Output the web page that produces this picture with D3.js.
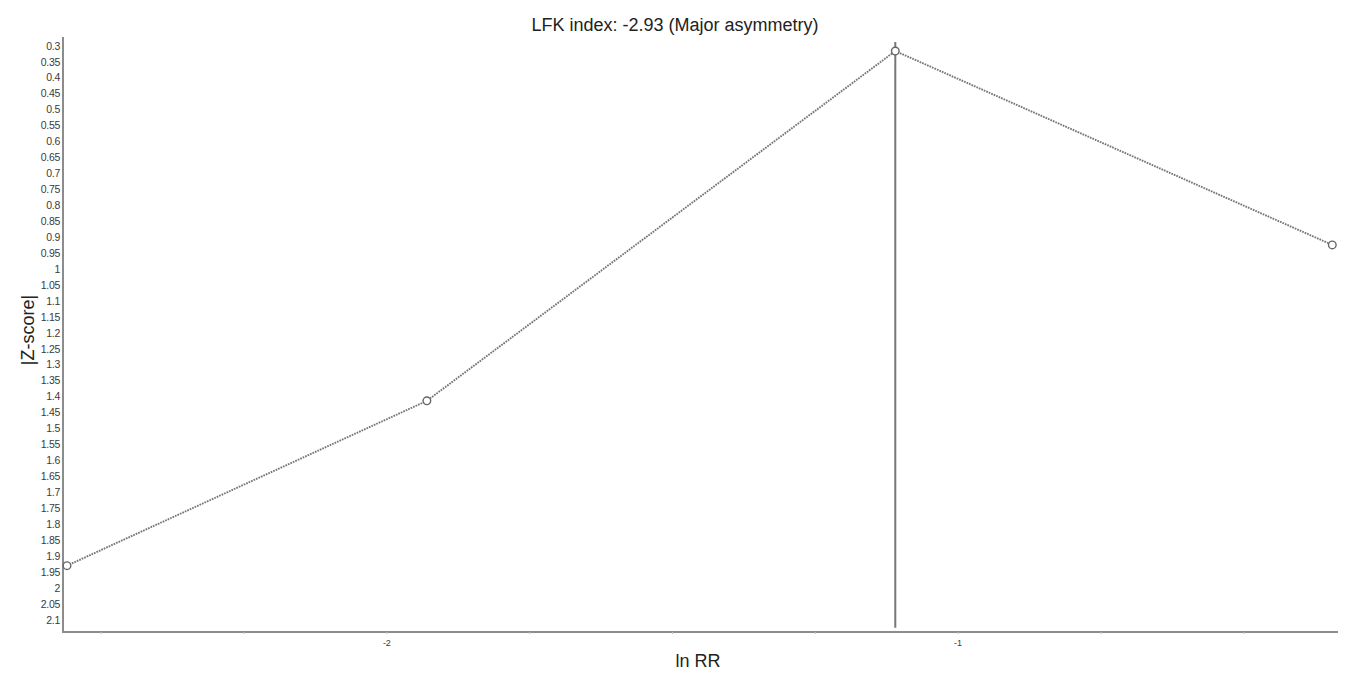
<!DOCTYPE html>
<html>
<head>
<meta charset="utf-8">
<script src="https://cdn.jsdelivr.net/npm/d3@7"></script>
<style>
  html, body { margin: 0; padding: 0; background: #fff; }
  svg { display: block; font-family: "Liberation Sans", Arial, sans-serif; }
</style>
</head>
<body>
<svg id="chart" width="1370" height="678"></svg>
<script>
// Doi plot: study effect (ln RR) against |Z-score|
const lnRR   = [-2.56, -1.93, -1.11, -0.345];
const zScore = [1.93, 1.413, 0.316, 0.924];
const yTicks = d3.range(0.3, 2.1001, 0.05).map(v => +v.toFixed(2));
const xTicksMajor = [-2, -1];
const xTicksMinor = [-2.5, -2.25, -2, -1.75, -1.5, -1.25, -1, -0.75, -0.5];
const title = "LFK index: -2.93 (Major asymmetry)";
const xTitle = "ln RR";
const yTitle = "|Z-score|";
const peakLnRR = -1.11; // effect of the most precise study

const svg = d3.select("#chart");
const plotL = 63, plotR = 1338, plotT = 37, plotB = 632;

const x = d3.scaleLinear().domain([-2.567, -0.335]).range([plotL, plotR]);
const y = d3.scaleLinear().domain([0.272, 2.138]).range([plotT, plotB]);

const axisColor = "#8c8c8c";
const textColor = "#3a3a3a";

// axes lines
svg.append("line").attr("x1", plotL).attr("x2", plotL).attr("y1", plotT).attr("y2", plotB)
  .attr("stroke", axisColor).attr("stroke-width", 2);
svg.append("line").attr("x1", plotL - 1).attr("x2", plotR).attr("y1", plotB).attr("y2", plotB)
  .attr("stroke", axisColor).attr("stroke-width", 2);

// y tick labels
svg.append("g").selectAll("text").data(yTicks).join("text")
  .attr("x", plotL - 3).attr("y", d => y(d)).attr("dy", "0.35em")
  .attr("text-anchor", "end").attr("font-size", 10.5).attr("fill", textColor)
  .attr("letter-spacing", "-0.3")
  .text(d => d3.format("")(d));

// x minor ticks
svg.append("g").selectAll("line").data(xTicksMinor).join("line")
  .attr("x1", d => x(d)).attr("x2", d => x(d))
  .attr("y1", plotB).attr("y2", plotB + 2)
  .attr("stroke", "#c4c4c4").attr("stroke-width", 1);

// x tick labels
svg.append("g").selectAll("text").data(xTicksMajor).join("text")
  .attr("x", d => x(d)).attr("y", plotB + 14)
  .attr("text-anchor", "middle").attr("font-size", 9).attr("fill", textColor)
  .text(d => d);

// vertical reference line at the most precise study
svg.append("line")
  .attr("x1", x(peakLnRR)).attr("x2", x(peakLnRR))
  .attr("y1", y(0.288)).attr("y2", y(2.125))
  .attr("stroke", "#777").attr("stroke-width", 2);

// dotted connecting line
const pts = lnRR.map((v, i) => [v, zScore[i]]);
svg.append("path")
  .datum(pts)
  .attr("d", d3.line().x(d => x(d[0])).y(d => y(d[1])))
  .attr("fill", "none").attr("stroke", "#767676").attr("stroke-width", 1.9)
  .attr("stroke-dasharray", "1.7,1");

// study points
svg.append("g").selectAll("circle").data(pts).join("circle")
  .attr("cx", d => x(d[0])).attr("cy", d => y(d[1])).attr("r", 3.8)
  .attr("fill", "#fff").attr("stroke", "#666").attr("stroke-width", 1.4);

// titles
svg.append("text").attr("x", 675).attr("y", 31).attr("text-anchor", "middle")
  .attr("font-size", 18).attr("fill", "#222").text(title);
svg.append("text").attr("x", 698).attr("y", 667).attr("text-anchor", "middle")
  .attr("font-size", 18).attr("fill", "#222").text(xTitle);
svg.append("text").attr("transform", "translate(34,330) rotate(-90)")
  .attr("text-anchor", "middle").attr("font-size", 18).attr("fill", "#222").text(yTitle);
</script>
</body>
</html>
